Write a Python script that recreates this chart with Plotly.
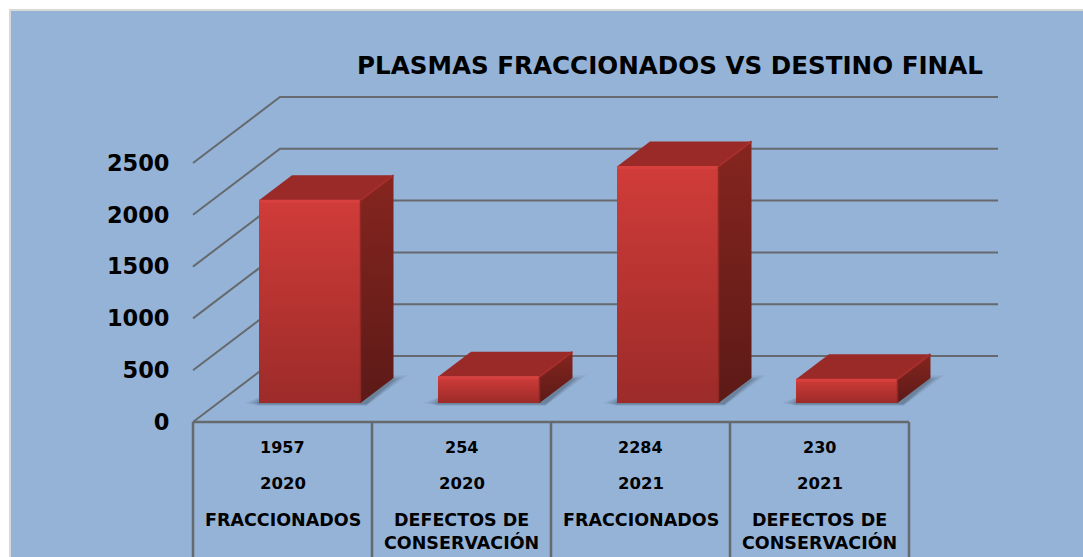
import plotly.graph_objects as go

# ---- data ----
values = [1957, 254, 2284, 230]
years = ["2020", "2020", "2021", "2021"]
categories = ["FRACCIONADOS", "DEFECTOS DE<br>CONSERVACIÓN", "FRACCIONADOS", "DEFECTOS DE<br>CONSERVACIÓN"]
y_ticks = [0, 500, 1000, 1500, 2000, 2500]
title = "PLASMAS FRACCIONADOS VS DESTINO FINAL"

# ---- projection of the fake 3D box (pixels per data unit on each axis) ----
W, H = 1083, 557
PLOT_L, PLOT_T = 10, 10
X_PX = 179.0      # px per category
Y_PX = 0.1036     # px per value unit
X0_PX = 282.5     # px of category 0 centre
Y0_PX = 422.0     # px of value 0 on the front edge
FONT = "DejaVu Sans"
LINE = "#666a6e"


def dx(px):
    return px / X_PX


def dy(px):
    return px / Y_PX


x_range = [(PLOT_L - X0_PX) / X_PX, (W - X0_PX) / X_PX]
y_range = [(Y0_PX - H) / Y_PX, (Y0_PX - PLOT_T) / Y_PX]

fig = go.Figure()


def line(xs, ys, color=LINE, width=2):
    fig.add_trace(go.Scatter(x=xs, y=ys, mode="lines", line=dict(color=color, width=width),
                             hoverinfo="skip", showlegend=False))


def poly(xs, ys, color=None, grad=None):
    kw = dict(fillcolor=color) if color else dict(
        fillgradient=dict(type="vertical", colorscale=[[0, grad[0]], [1, grad[1]]]))
    fig.add_trace(go.Scatter(x=xs + xs[:1], y=ys + ys[:1], mode="lines", fill="toself",
                             line=dict(width=0), hoverinfo="skip", showlegend=False, **kw))


left = -0.5
wall_x, wall_y = dx(87), dy(66)
right = len(values) - 0.5

# walls and floor
for t in y_ticks:
    line([left, left + wall_x, left + dx(805)], [t, t + wall_y, t + wall_y])
line([left, right], [0, 0], width=2.5)
for i in range(len(values) + 1):
    line([left + i, left + i], [0, y_range[0]], width=2.5)

BAR_L, BAR_R = dx(-23.5), dx(78)
BASE = dy(19)
DEPTH_X, DEPTH_Y = dx(33), dy(25)

# soft floor shadows
for grow, alpha in [(1.0, 0.035), (0.85, 0.04), (0.7, 0.05), (0.55, 0.06), (0.4, 0.07), (0.25, 0.09), (0.1, 0.11)]:
    for i in range(len(values)):
        xs = [i + BAR_L - dx(15 * grow), i + BAR_L + dx(6), i + BAR_R + dx(8),
              i + BAR_R + DEPTH_X + dx(15 * grow), i + BAR_R + dx(6), i + BAR_L]
        ys = [BASE + dy(0), BASE + dy(8), BASE + DEPTH_Y - dy(2 - 5 * grow),
              BASE + DEPTH_Y - dy(2 - 5 * grow), BASE - dy(1 + 2 * grow), BASE - dy(1 + 2 * grow)]
        poly(xs, ys, color=f"rgba(45,55,70,{alpha})")

# bars
for i, v in enumerate(values):
    l, r, b, t = i + BAR_L, i + BAR_R, BASE, BASE + v
    poly([r, r + DEPTH_X, r + DEPTH_X, r], [b, b + DEPTH_Y, t + DEPTH_Y, t], grad=("#5c1a17", "#86251f"))
    poly([l, r, r + DEPTH_X, l + DEPTH_X], [t, t, t + DEPTH_Y, t + DEPTH_Y], color="#992a27")
    poly([l, r, r, l], [b, b, t, t], grad=("#9c2b29", "#d03c39"))
    line([l, r], [t - dy(1), t - dy(1)], color="#d8403d", width=3)
    line([r, r + DEPTH_X], [t, t + DEPTH_Y], color="#a62e2b", width=2)
    line([r, r], [b, t], color="#8e2825", width=1.5)

# table-like labels below the floor
annotations = []
for i in range(len(values)):
    for txt, py, yanchor, size in [(str(values[i]), 447, "middle", 16), (years[i], 483, "middle", 16.5),
                                   (categories[i], 508, "top", 17.5)]:
        annotations.append(dict(x=i, y=(Y0_PX - py) / Y_PX, xref="x", yref="y", text=txt,
                                showarrow=False, xanchor="center", yanchor=yanchor, align="center",
                                font=dict(family=FONT, size=size, color="#000000", weight="bold")))

fig.update_layout(
    width=W, height=H, autosize=False,
    margin=dict(l=PLOT_L, r=0, t=PLOT_T, b=0),
    paper_bgcolor="#ffffff", plot_bgcolor="#95b3d7",
    title=dict(text=title, x=670 / W, y=1 - 65 / H, xref="container", yref="container",
               xanchor="center", yanchor="middle",
               font=dict(family=FONT, size=24.6, color="#000000", weight="bold")),
    xaxis=dict(range=x_range, showgrid=False, zeroline=False, showticklabels=False, ticks="", showline=False),
    yaxis=dict(range=y_range, showgrid=False, zeroline=False, tickvals=y_ticks,
               ticktext=[str(t) for t in y_ticks], ticks="outside", ticklen=19,
               tickcolor="rgba(0,0,0,0)", anchor="free",
               position=(193 - PLOT_L) / (W - PLOT_L), showline=False,
               tickfont=dict(family=FONT, size=22.5, color="#000000", weight="bold")),
    annotations=annotations,
    shapes=[dict(type="rect", xref="paper", yref="paper", x0=0, x1=1.01, y0=-0.01, y1=1,
                 line=dict(color="#d9d9d9", width=2), fillcolor="rgba(0,0,0,0)", layer="above")],
)

fig.write_html("out.html", config={"displayModeBar": False},
               post_script="document.body.style.margin='0';document.body.style.overflow='hidden';")
